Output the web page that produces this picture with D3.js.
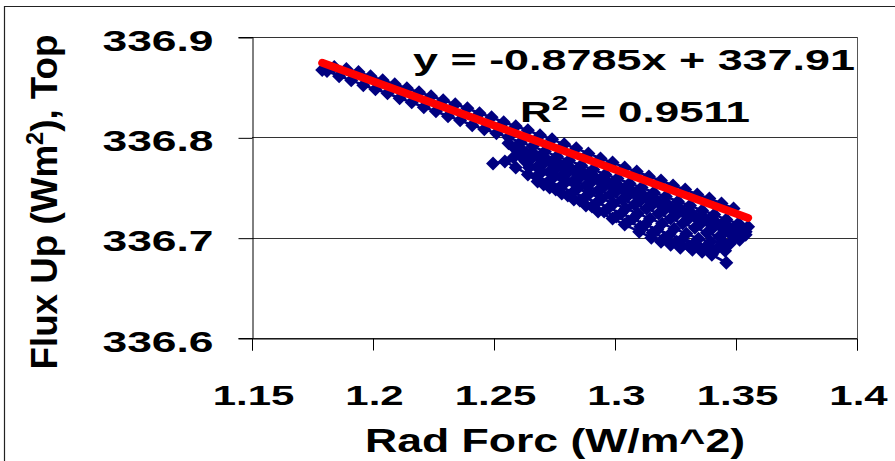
<!DOCTYPE html>
<html><head><meta charset="utf-8">
<script src="https://cdn.jsdelivr.net/npm/d3@7"></script>
<style>
body{margin:0;background:#fff}
svg{display:block}
text{font-family:"Liberation Sans",Arial,sans-serif;font-weight:bold;fill:#000}
</style></head><body>
<svg id="chart" width="895" height="461"></svg>
<script>
// Upward flux at top vs radiative forcing, one connected marker series per run
const run1 = [[1.179,336.867],[1.184,336.870],[1.189,336.868],[1.194,336.865],[1.199,336.861],[1.204,336.857],[1.209,336.853],[1.214,336.849],[1.219,336.845],[1.224,336.841],[1.229,336.837],[1.234,336.833],[1.239,336.829],[1.244,336.824],[1.249,336.820],[1.254,336.815],[1.259,336.811],[1.264,336.807],[1.269,336.802],[1.274,336.798],[1.279,336.793],[1.284,336.789],[1.289,336.784],[1.294,336.779],[1.299,336.775],[1.304,336.770],[1.309,336.766],[1.314,336.761],[1.319,336.757],[1.324,336.752],[1.329,336.748],[1.334,336.743],[1.339,336.739],[1.344,336.734],[1.349,336.729]];
const run2 = [[1.181,336.866],[1.186,336.861],[1.191,336.857],[1.196,336.852],[1.201,336.848],[1.206,336.844],[1.211,336.839],[1.216,336.835],[1.221,336.830],[1.226,336.826],[1.231,336.821],[1.236,336.817],[1.241,336.812],[1.246,336.808],[1.251,336.804],[1.256,336.800],[1.261,336.795],[1.266,336.791],[1.271,336.786],[1.276,336.781],[1.281,336.777],[1.286,336.772],[1.291,336.768],[1.296,336.763],[1.301,336.759],[1.306,336.754],[1.311,336.750],[1.316,336.745],[1.321,336.741],[1.326,336.736],[1.331,336.732],[1.336,336.727],[1.341,336.723],[1.346,336.718],[1.351,336.714],[1.355,336.711]];
const run3 = [[1.256,336.794],[1.261,336.789],[1.266,336.785],[1.271,336.780],[1.276,336.776],[1.281,336.771],[1.286,336.767],[1.291,336.762],[1.296,336.758],[1.301,336.753],[1.306,336.749],[1.311,336.744],[1.316,336.740],[1.321,336.735],[1.326,336.731],[1.331,336.726],[1.336,336.722],[1.341,336.717],[1.346,336.713],[1.352,336.709]];
const run4 = [[1.2605,336.783],[1.2655,336.779],[1.2705,336.774],[1.2755,336.769],[1.2805,336.765],[1.2855,336.760],[1.2905,336.756],[1.2955,336.751],[1.3005,336.746],[1.3055,336.742],[1.3105,336.737],[1.3155,336.733],[1.3205,336.728],[1.3255,336.723],[1.3305,336.719],[1.3355,336.714],[1.3405,336.710],[1.3455,336.706],[1.3505,336.702],[1.354,336.706]];
const run5 = [[1.258,336.780],[1.263,336.776],[1.268,336.771],[1.273,336.766],[1.278,336.762],[1.283,336.757],[1.288,336.752],[1.293,336.747],[1.298,336.743],[1.303,336.738],[1.308,336.733],[1.313,336.729],[1.318,336.724],[1.323,336.719],[1.328,336.714],[1.333,336.710],[1.338,336.705],[1.343,336.701],[1.348,336.703],[1.353,336.706]];
const run6 = [[1.2645,336.770],[1.2695,336.765],[1.2745,336.760],[1.2795,336.755],[1.2845,336.749],[1.2895,336.744],[1.2945,336.739],[1.2995,336.734],[1.3045,336.729],[1.3095,336.724],[1.3145,336.719],[1.3195,336.714],[1.3245,336.709],[1.3295,336.704],[1.3345,336.699],[1.3395,336.696],[1.3445,336.696],[1.3495,336.700],[1.354,336.703]];
const run7 = [[1.2496,336.774],[1.2545,336.776],[1.259,336.770],[1.264,336.763],[1.268,336.756],[1.273,336.750],[1.278,336.744],[1.283,336.738],[1.288,336.732],[1.293,336.726],[1.299,336.719],[1.304,336.713],[1.310,336.706],[1.315,336.700],[1.319,336.696],[1.323,336.693],[1.327,336.690],[1.332,336.688],[1.336,336.686],[1.340,336.683],[1.346,336.675]];
const run8 = [[1.2675,336.761],[1.2725,336.756],[1.2775,336.751],[1.2825,336.745],[1.2875,336.740],[1.2925,336.735],[1.2975,336.730],[1.3025,336.724],[1.3075,336.719],[1.3125,336.713],[1.3175,336.708],[1.3225,336.703],[1.3275,336.698],[1.3325,336.694],[1.3375,336.691],[1.3425,336.690],[1.3475,336.694],[1.3515,336.698]];
const run9 = [[1.2585,336.789],[1.2635,336.784],[1.2685,336.780],[1.2735,336.775],[1.2785,336.771],[1.2835,336.766],[1.2885,336.762],[1.2935,336.757],[1.2985,336.752],[1.3035,336.748],[1.3085,336.743],[1.3135,336.739],[1.3185,336.734],[1.3235,336.729],[1.3285,336.725],[1.3335,336.720],[1.3385,336.716],[1.3435,336.712],[1.3485,336.708]];
const run10 = [[1.2705,336.753],[1.2755,336.748],[1.2805,336.742],[1.2855,336.737],[1.2905,336.731],[1.2955,336.726],[1.3005,336.721],[1.3055,336.716],[1.3105,336.711],[1.3155,336.705],[1.3205,336.700],[1.3255,336.696],[1.3305,336.692],[1.3355,336.689],[1.3405,336.687],[1.3455,336.687]];
const runs = [run1, run2, run3, run9, run4, run5, run6, run8, run10, run7];

const xTicks = [1.15, 1.2, 1.25, 1.3, 1.35, 1.4];
const yTicks = [336.6, 336.7, 336.8, 336.9];
const trendSlope = -0.8785;
const trendIntercept = 337.91;
const trendR2 = 0.9511;
const xTitle = "Rad Forc (W/m^2)";

const svg = d3.select("#chart");
const x = d3.scaleLinear().domain([1.15, 1.4]).range([252, 857]);
const y = d3.scaleLinear().domain([336.6, 336.9]).range([338, 37]);

// outer chart frame (left and top edges)
svg.append("path").attr("d", "M4.5,461 V6.5 H895")
  .attr("fill", "none").attr("stroke", "#222").attr("stroke-width", 1.2);

// horizontal gridlines
svg.append("g").selectAll("line").data(yTicks).join("line")
  .attr("x1", 252).attr("x2", 857)
  .attr("y1", d => Math.round(y(d)) + 0.5).attr("y2", d => Math.round(y(d)) + 0.5)
  .attr("stroke", "#333").attr("stroke-width", 1);

// right edge of plot area
svg.append("line").attr("x1", 857.5).attr("x2", 857.5).attr("y1", 37).attr("y2", 338.5)
  .attr("stroke", "#555").attr("stroke-width", 1);

// axes
const yAxis = svg.append("g").attr("transform", "translate(252.5,0)")
  .call(d3.axisLeft(y).tickValues(yTicks).tickSize(14).tickFormat(d3.format(".1f")));
const xAxis = svg.append("g").attr("transform", "translate(0,338.5)")
  .call(d3.axisBottom(x).tickValues(xTicks).tickSize(12).tickFormat(d => String(d)));
[yAxis, xAxis].forEach(a => {
  a.select(".domain").attr("stroke", "#000");
  a.selectAll(".tick line").attr("stroke", "#000");
});
yAxis.selectAll(".tick line").attr("transform", "translate(0,0.5)");
yAxis.selectAll(".tick text")
  .attr("x", 0).attr("dy", null).attr("y", null)
  .attr("text-anchor", "end")
  .attr("font-family", null).attr("font-size", null).style("font-size", "29px")
  .attr("transform", "translate(-39,13) scale(1.53,1)");
xAxis.selectAll(".tick text")
  .attr("y", 0).attr("dy", null)
  .attr("text-anchor", "middle")
  .attr("font-family", null).attr("font-size", null).style("font-size", "28px")
  .attr("transform", "translate(1,66) scale(1.5,1)");
svg.selectAll(".tick text").attr("fill", "#000");

// data runs: navy lines with diamond markers
const line = d3.line().x(d => x(d[0])).y(d => y(d[1]));
const diamond = "M0,-7L7,0L0,7L-7,0Z";
const series = svg.append("g");
runs.forEach(run => {
  series.append("path").attr("d", line(run))
    .attr("fill", "none").attr("stroke", "#000080").attr("stroke-width", 2.6)
    .attr("stroke-linejoin", "round");
});
runs.forEach(run => {
  series.append("g").selectAll("path").data(run).join("path")
    .attr("d", diamond)
    .attr("transform", d => `translate(${x(d[0])},${y(d[1])})`)
    .attr("fill", "#000080");
});

// linear trendline over the data extent
const [xmin, xmax] = d3.extent(runs.flat(), d => d[0]);
svg.append("path")
  .attr("d", line([[xmin, trendIntercept + trendSlope * xmin], [xmax, trendIntercept + trendSlope * xmax]]))
  .attr("stroke", "#ff0000").attr("stroke-width", 8).attr("stroke-linecap", "round");

// trendline equation and R²
svg.append("text").attr("x", 413).attr("y", 70)
  .style("font-size", "29px").attr("textLength", 442).attr("lengthAdjust", "spacingAndGlyphs")
  .text(`y = ${trendSlope}x + ${trendIntercept}`);
const r2 = svg.append("text").attr("x", 520).attr("y", 122)
  .style("font-size", "30px").attr("textLength", 230).attr("lengthAdjust", "spacingAndGlyphs");
r2.append("tspan").text("R");
r2.append("tspan").attr("dy", -12).style("font-size", "20px").text("2");
r2.append("tspan").attr("dy", 12).text(` = ${trendR2}`);

// axis titles
svg.append("text").attr("x", 555).attr("y", 452).attr("text-anchor", "middle")
  .style("font-size", "33px").attr("textLength", 380).attr("lengthAdjust", "spacingAndGlyphs")
  .text(xTitle);
const yt = svg.append("text")
  .attr("transform", "translate(57,202) rotate(-90)")
  .attr("text-anchor", "middle")
  .style("font-size", "36px").attr("textLength", 335).attr("lengthAdjust", "spacingAndGlyphs");
yt.append("tspan").text("Flux Up (Wm");
yt.append("tspan").attr("dy", -14).style("font-size", "23px").text("2");
yt.append("tspan").attr("dy", 14).text("), Top");
</script>
</body></html>
